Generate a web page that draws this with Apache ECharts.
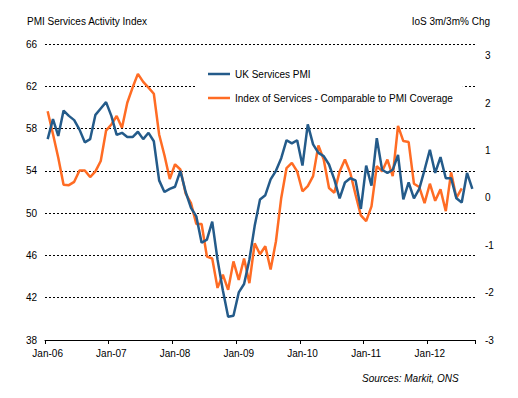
<!DOCTYPE html>
<html>
<head>
<meta charset="utf-8">
<script src="https://cdn.jsdelivr.net/npm/echarts@6/dist/echarts.min.js"></script>
<style>
  html, body { margin: 0; padding: 0; background: #fff; }
  #chart { width: 518px; height: 398px; }
</style>
</head>
<body>
<div id="chart"></div>
<script>
// Jan-06 .. Sep-12, monthly
const years = ['06', '07', '08', '09', '10', '11', '12']
const monthNames = ['Jan', 'Feb', 'Mar', 'Apr', 'May', 'Jun', 'Jul', 'Aug', 'Sep', 'Oct', 'Nov', 'Dec']
const months = []
years.forEach(y => monthNames.forEach(m => months.push(m + '-' + y)))
months.length = 81

// UK Services PMI (left axis)
const pmi = [
  57.0, 58.9, 57.3, 59.7, 59.2, 58.8, 57.9, 56.7, 57.0, 59.3, 59.9, 60.5,
  59.2, 57.4, 57.6, 57.2, 57.2, 57.7, 57.0, 57.6, 56.8, 53.1, 52.0, 52.3,
  52.5, 54.0, 52.0, 50.5, 49.7, 47.2, 47.5, 49.2, 45.6, 42.7, 40.2, 40.3,
  42.5, 43.3, 45.6, 48.8, 51.3, 51.7, 53.2, 54.0, 55.2, 56.9, 56.6, 56.9,
  54.5, 58.4, 56.5, 55.7, 55.4, 54.6, 53.2, 51.4, 52.9, 53.3, 53.1, 50.4,
  54.5, 52.6, 57.1, 54.1, 53.8, 54.1, 55.5, 51.3, 52.9, 51.4, 52.3, 54.1,
  56.0, 53.8, 55.3, 53.3, 53.3, 51.4, 51.0, 53.8, 52.3
]

// Index of Services 3m/3m % change (right axis), ends Jul-12
const ios = [
  1.83, 1.35, 0.85, 0.28, 0.27, 0.34, 0.58, 0.58, 0.44, 0.56, 0.78, 1.42,
  1.55, 1.73, 1.48, 2.01, 2.33, 2.62, 2.45, 2.33, 2.20, 1.34, 0.90, 0.40,
  0.71, 0.60, 0.09, -0.11, -0.55, -0.55, -1.24, -1.28, -1.90, -1.62, -1.94, -1.34,
  -1.73, -1.28, -1.80, -0.96, -1.19, -1.02, -1.51, -0.92, 0.00, 0.63, 0.74, 0.56,
  0.14, 0.25, 0.46, 1.11, 0.81, 0.21, 0.11, 0.56, 0.81, 0.53, 0.07, -0.37,
  -0.49, -0.18, 0.67, 0.56, 0.81, 0.46, 1.52, 1.20, 1.18, 0.30, 0.23, -0.11,
  0.30, -0.06, 0.18, -0.28, 0.54, 0.00, 0.20
]

const leftTicks = { min: 38, max: 66, step: 4 }
const rightTicks = { min: -3, max: 3, step: 1 }

const BLUE = '#245b8a'
const ORANGE = '#ff6c24'
const FONT = 'Liberation Sans, Arial, sans-serif'

const chart = echarts.init(document.getElementById('chart'), null, { renderer: 'svg' })
chart.setOption({
  animation: false,
  textStyle: { fontFamily: FONT },
  title: [
    { text: 'PMI Services Activity Index', left: 22, top: 11,
      textStyle: { fontSize: 10, fontWeight: 'normal', color: '#000' } },
    { text: 'IoS 3m/3m% Chg', right: 23, top: 11,
      textStyle: { fontSize: 10, fontWeight: 'normal', color: '#000' } },
    { text: 'Sources: Markit, ONS', left: 357, top: 368,
      textStyle: { fontSize: 10, fontWeight: 'normal', fontStyle: 'italic', color: '#000' } }
  ],
  legend: {
    orient: 'vertical',
    left: 196,
    top: 60,
    padding: [9, 10, 9, 12],
    backgroundColor: '#fff',
    icon: 'rect',
    itemWidth: 22,
    itemHeight: 2.5,
    itemGap: 14,
    textStyle: { fontSize: 10, color: '#000' },
    data: ['UK Services PMI', 'Index of Services - Comparable to PMI Coverage']
  },
  grid: { left: 45, right: 43, top: 44, bottom: 58 },
  xAxis: {
    type: 'category',
    data: months,
    boundaryGap: true,
    axisLine: { show: true, onZero: false, lineStyle: { color: '#000', width: 1 } },
    axisTick: { show: true, interval: 11, length: 4, lineStyle: { color: '#000' } },
    axisLabel: { interval: 11, fontSize: 10, color: '#000' },
    splitLine: { show: false }
  },
  yAxis: [
    {
      type: 'value',
      min: leftTicks.min, max: leftTicks.max, interval: leftTicks.step,
      axisLine: { show: false }, axisTick: { show: false },
      axisLabel: { fontSize: 10, color: '#000' },
      splitLine: { show: true, lineStyle: { color: '#000', type: [2, 2], width: 1.2 } }
    },
    {
      type: 'value',
      position: 'right',
      min: rightTicks.min, max: rightTicks.max + 0.25, interval: rightTicks.step,
      axisLine: { show: false }, axisTick: { show: false },
      axisLabel: {
        fontSize: 10, color: '#000', margin: 10, showMaxLabel: false,
        formatter: v => (Number.isInteger(v) ? String(v) : '')
      },
      splitLine: { show: false }
    }
  ],
  series: [
    {
      name: 'UK Services PMI',
      type: 'line',
      data: pmi,
      symbol: 'none',
      lineStyle: { color: BLUE, width: 2.5 },
      itemStyle: { color: BLUE },
      z: 3
    },
    {
      name: 'Index of Services - Comparable to PMI Coverage',
      type: 'line',
      yAxisIndex: 1,
      data: ios,
      symbol: 'none',
      lineStyle: { color: ORANGE, width: 2.5 },
      itemStyle: { color: ORANGE },
      z: 2
    }
  ]
})
</script>
</body>
</html>
